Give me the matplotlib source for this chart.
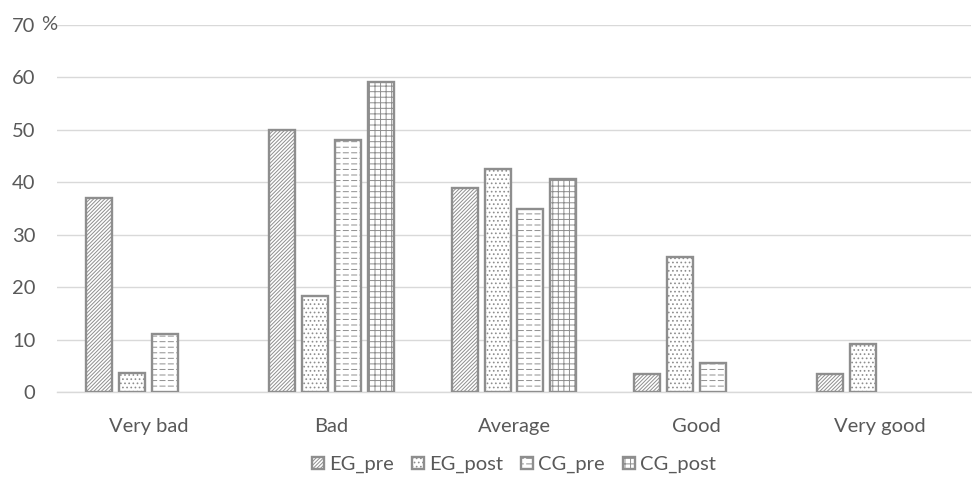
import warnings
import numpy as np
import matplotlib
matplotlib.use("Agg")
import matplotlib.pyplot as plt
import matplotlib.hatch as mhatch
from matplotlib.path import Path

warnings.filterwarnings("ignore")

categories = ["Very bad", "Bad", "Average", "Good", "Very good"]
series_names = ["EG_pre", "EG_post", "CG_pre", "CG_post"]
eg_pre = [37.0, 49.9, 38.9, 3.5, 3.5]
eg_post = [3.6, 18.4, 42.6, 25.7, 9.1]
cg_pre = [11.0, 48.0, 35.0, 5.5, 0.0]
cg_post = [0.0, 59.2, 40.6, 0.0, 0.0]
y_ticks = [0, 10, 20, 30, 40, 50, 60, 70]


class DashedHorizontalHatch(mhatch.HatchPatternBase):
    """Horizontal dashed lines, triggered by '_' in the hatch string."""
    def __init__(self, hatch, density):
        self.num_lines = int(hatch.count('_') * 18)
        self.num_dashes = 12
        self.num_vertices = self.num_lines * self.num_dashes * 2

    def set_vertices_and_codes(self, vertices, codes):
        ys = (np.arange(self.num_lines) + 0.5) / self.num_lines
        period = 1.0 / self.num_dashes
        dash = period * 0.6
        idx = 0
        for y in ys:
            for k in range(self.num_dashes):
                x0 = k * period + period * 0.2
                vertices[idx] = (x0, y)
                vertices[idx + 1] = (x0 + dash, y)
                codes[idx] = Path.MOVETO
                codes[idx + 1] = Path.LINETO
                idx += 2


mhatch._hatch_types.append(DashedHorizontalHatch)

plt.rcParams["font.family"] = ["Lato", "DejaVu Sans"]
plt.rcParams["hatch.linewidth"] = 0.7

text_color = "#595959"
edge_color = "#8e8e8e"
grid_color = "#d9d9d9"
fs = 14.5

fig = plt.figure(figsize=(9.72, 4.88), dpi=100)
ax = fig.add_axes([57 / 972, (488 - 392) / 488, (971 - 57) / 972, (392 - 25) / 488])

data = [eg_pre, eg_post, cg_pre, cg_post]
hatches = ["/////////", "....", "_", "+++"]
n = len(series_names)
x = np.arange(len(categories))
pitch = 33 / 183
width = 26 / 183

for i, (name, vals, h) in enumerate(zip(series_names, data, hatches)):
    offs = (i - (n - 1) / 2) * pitch
    vals_arr = np.array(vals)
    mask = vals_arr > 0
    ax.bar(x[mask] + offs, vals_arr[mask], width=width, facecolor="white",
           edgecolor=edge_color, linewidth=1.7, hatch=h, label=name, zorder=3)

ax.set_xlim(-0.5, len(categories) - 0.5)
ax.set_ylim(0, 70)
ax.set_yticks(y_ticks)
ax.set_yticklabels([str(t) for t in y_ticks])
ax.set_xticks(x)
ax.set_xticklabels(categories)

ax.grid(axis="y", color=grid_color, linewidth=1.0, zorder=0)
ax.set_axisbelow(True)
for s in ["top", "right", "left"]:
    ax.spines[s].set_visible(False)
ax.spines["bottom"].set_color(grid_color)
ax.spines["bottom"].set_linewidth(1.0)

ax.tick_params(axis="both", length=0, labelsize=fs, colors=text_color)
ax.tick_params(axis="y", pad=15.5)
ax.tick_params(axis="x", pad=18.5)

# percent sign next to the top tick label
ax.annotate("%", xy=(0, 70), xycoords=("axes fraction", "data"),
            xytext=(0, 0), textcoords="offset points",
            ha="right", va="center", fontsize=fs, color=text_color)

leg = ax.legend(loc="center", bbox_to_anchor=(0.5, -0.198), ncol=4,
                frameon=False, fontsize=fs, handlelength=0.6, handleheight=0.6,
                handletextpad=0.25, columnspacing=0.9, labelcolor=text_color,
                borderpad=0)

fig.savefig("out.png", dpi=100)
